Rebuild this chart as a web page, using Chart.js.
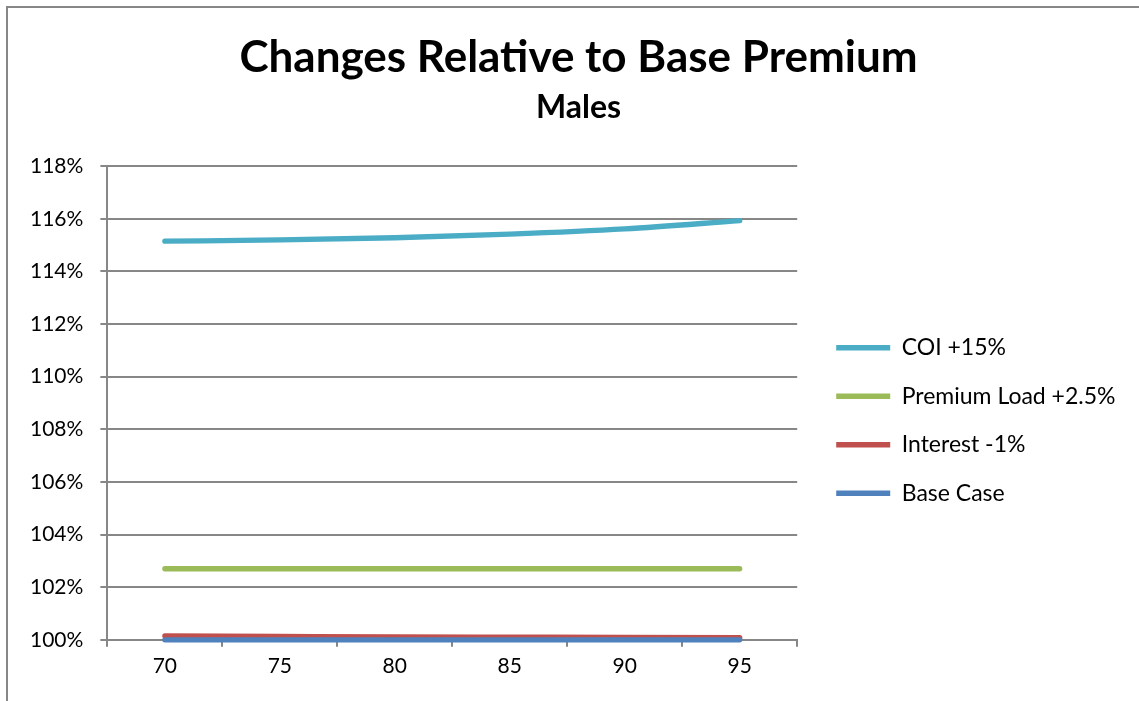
<!DOCTYPE html>
<html>
<head>
<meta charset="utf-8">
<script src="https://cdn.jsdelivr.net/npm/chart.js@4.4.1/dist/chart.umd.min.js"></script>
<style>
    html, body { margin: 0; padding: 0; background: #fff; overflow: hidden; }
    #frame { position: absolute; left: 6px; top: 6px; width: 1200px; height: 800px; border: 2px solid #878787; }
    #wrap { position: absolute; left: 0; top: 0; width: 1139px; height: 701px; }
</style>
</head>
<body>
<div id="frame"></div>
<div id="wrap"><canvas id="premiumChart"></canvas></div>
<script>
//..tick labels on x axis (issue age)
const ages = ['70', '75', '80', '85', '90', '95'];

//..premium as % of base premium
const coiUp = [115.15, 115.2, 115.28, 115.42, 115.62, 115.93];
const premiumLoadUp = [102.7, 102.7, 102.7, 102.7, 102.7, 102.7];
const interestDown = [100.15, 100.13, 100.11, 100.1, 100.09, 100.08];
const baseCase = [100, 100, 100, 100, 100, 100];

const seriesNames = ['COI +15%', 'Premium Load +2.5%', 'Interest -1%', 'Base Case'];
const seriesColors = ['#4BACC6', '#9BBB59', '#C0504D', '#4F81BD'];

const gridGrey = '#878787';

Chart.defaults.font.family = 'Lato, "Open Sans", sans-serif';
Chart.defaults.color = '#000';

//..base case drawn last so it sits on top like in excel
const datasets = [coiUp, premiumLoadUp, interestDown, baseCase].map((vals, i) => ({
    label: seriesNames[i],
    data: vals,
    order: 3 - i,
    borderColor: seriesColors[i],
    backgroundColor: seriesColors[i],
    borderWidth: 5.3,
    borderCapStyle: 'round',
    borderJoinStyle: 'round',
    pointRadius: 0,
    pointStyle: 'line',
    cubicInterpolationMode: 'monotone',
    clip: false,
    fill: false
}));

//..nudge legend and titles to where excel puts them
const layoutNudge = {
    id: 'layoutNudge',
    afterLayout(chart) {
        const lg = chart.legend;
        lg.left += 13.5; lg.right += 13.5;
        lg.top += 77.5; lg.bottom += 77.5;
        chart.boxes.forEach(b => {
            if (b.position === 'top' && b.options && 'text' in b.options) {
                b.left += 16; b.right += 16;
            }
        });
    }
};

new Chart(document.getElementById('premiumChart'), {
    type: 'line',
    data: {
        labels: ages,
        datasets
    },
    plugins: [layoutNudge],
    options: {
        responsive: true,
        maintainAspectRatio: false,
        animation: false,
        layout: {
            padding: { left: 13, right: 27, top: 0, bottom: 15 }
        },
        plugins: {
            title: {
                display: true,
                text: 'Changes Relative to Base Premium',
                font: { size: 44, weight: 'bold' },
                padding: { top: 31, bottom: 0 }
            },
            subtitle: {
                display: true,
                text: 'Males',
                font: { size: 32, weight: 'bold' },
                padding: { top: 5, bottom: 39 }
            },
            legend: {
                position: 'right',
                reverse: true,
                maxWidth: 400,
                labels: {
                    usePointStyle: true,
                    pointStyle: 'line',
                    pointStyleWidth: 54,
                    padding: 25.5,
                    font: { size: 23 },
                    color: '#000'
                }
            },
            tooltip: { enabled: false }
        },
        scales: {
            x: {
                offset: true,
                grid: {
                    display: true,
                    offset: true,
                    drawOnChartArea: false,
                    drawTicks: true,
                    tickLength: 7,
                    color: gridGrey,
                    lineWidth: 2
                },
                border: { color: gridGrey, width: 2 },
                ticks: {
                    font: { size: 21 },
                    color: '#000',
                    padding: 7,
                    maxRotation: 0
                }
            },
            y: {
                min: 100,
                max: 118,
                grid: {
                    color: gridGrey,
                    lineWidth: 2,
                    tickLength: 7
                },
                border: { color: gridGrey, width: 2 },
                ticks: {
                    stepSize: 2,
                    font: { size: 21 },
                    color: '#000',
                    padding: 17,
                    callback: v => v + '%'
                }
            }
        }
    }
});
</script>
</body>
</html>
